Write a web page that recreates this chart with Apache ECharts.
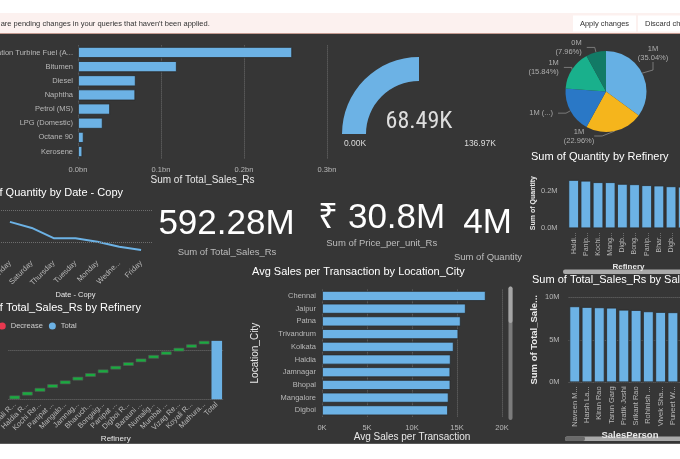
<!DOCTYPE html>
<html>
<head>
<meta charset="utf-8">
<script src="https://cdn.jsdelivr.net/npm/echarts@6/dist/echarts.min.js"></script>
<style>
  html, body { margin: 0; padding: 0; background: #fff; }
  #main { width: 680px; height: 459px; }
</style>
</head>
<body>
<div id="main"></div>
<script>
// ---------- data ----------
const fuelTypes = ['Aviation Turbine Fuel (ATF)', 'Bitumen', 'Diesel', 'Naphtha', 'Petrol (MS)', 'LPG (Domestic)', 'Octane 90', 'Kerosene'];
const fuelSalesBn = [0.258, 0.119, 0.0695, 0.069, 0.0386, 0.0297, 0.0068, 0.0052];

const gaugeMin = 0;
const gaugeMax = 136.97;
const gaugeValue = 68.49;

const pieQtyM = [1.4016, 0.9184, 0.728, 0.6336, 0.3184];

const weekDays = ['Sunday', 'Saturday', 'Thursday', 'Tuesday', 'Monday', 'Wednesday', 'Friday'];
const qtyByDayM = [0.563, 0.544, 0.512, 0.512, 0.501, 0.485, 0.475];
const qtyDayGridM = [0.5, 0.6];

const kpiValues = [592.28, 30.8, 4];
const kpiNames = ['Sum of Total_Sales_Rs', 'Sum of Price_per_unit_Rs', 'Sum of Quantity'];

const qtyRefineries = ['Haldia Refinery', 'Panipat Refinery', 'Kochi Refinery', 'Mangalore Refinery', 'Digboi Refinery',
  'Bongaigaon Refinery', 'Panipat Naphtha Cracker', 'Bharuch Refinery', 'Digboi Refinery (Unit 2)', 'Barauni Refinery'];
const qtyByRefineryM = [0.259, 0.255, 0.247, 0.247, 0.238, 0.236, 0.231, 0.229, 0.225, 0.223];

const wfRefineries = ['Manali Refinery', 'Haldia Refinery', 'Kochi Refinery', 'Panipat Refinery', 'Mangalore Refinery',
  'Jamnagar Refinery', 'Bharuch Refinery', 'Bongaigaon Refinery', 'Panipat Naphtha Cracker', 'Digboi Refinery',
  'Barauni Refinery', 'Numaligarh Refinery', 'Mumbai Refinery', 'Vizag Refinery', 'Koyali Refinery', 'Mathura Refinery'];
const wfSalesM = [38.6, 38.4, 38.1, 37.9, 37.6, 37.4, 37.2, 37.0, 36.9, 36.8, 36.6, 36.5, 36.3, 36.1, 35.6, 35.28];

const cities = ['Chennai', 'Jaipur', 'Patna', 'Trivandrum', 'Kolkata', 'Haldia', 'Jamnagar', 'Bhopal', 'Mangalore', 'Digboi'];
const avgSalesK = [18.19, 15.97, 15.41, 15.15, 14.63, 14.30, 14.26, 14.27, 14.07, 14.00];

const salesPeople = ['Naveen Mehta', 'Harsh Lamba', 'Kiran Rao', 'Tarun Garg', 'Pratik Joshi', 'Srikant Rao',
  'Rohinish Gupta', 'Vivek Sharma', 'Puneet Walia', 'Ankit Verma'];
const salesByPersonM = [8.94, 8.86, 8.82, 8.78, 8.54, 8.50, 8.35, 8.27, 8.24, 8.20];

// ---------- waterfall helpers ----------
const wfCats = wfRefineries.concat(['Total']);
const wfBase = [], wfInc = [];
let running = 0;
wfSalesM.forEach(v => { wfBase.push(running); wfInc.push(v); running += v; });
wfBase.push('-');
wfInc.push('-');
const wfTotal = wfSalesM.map(() => '-').concat([+running.toFixed(2)]);

// ---------- styles ----------
const FONT = '"Liberation Sans", Arial, sans-serif';
const BG = '#363636';
const BLUE = '#6cb2e5';
const TICK = '#b8b8b8';
const AXN = '#e8e8e8';
const dotted = { show: true, lineStyle: { color: '#6e6e6e', type: 'dotted', width: 1 } };
const barBorder = { borderColor: '#2a2a2a', borderWidth: 0.8 };
const tick = (o) => Object.assign({ color: TICK, fontSize: 7.5, fontFamily: FONT }, o);
const ax = (o) => Object.assign({ axisLine: { show: false }, axisTick: { show: false } }, o);
const gridBase = { outerBoundsMode: 'none', containLabel: false };

const chart = echarts.init(document.getElementById('main'));

const kpiTexts = [kpiValues[0].toFixed(2) + 'M', '\u20B9 ' + kpiValues[1] + 'M', kpiValues[2] + 'M'];

function txt(x, y, text, size, fill, extra) {
  return {
    type: 'text', x: x, y: y, silent: true,
    style: Object.assign({
      text: text, fill: fill, fontSize: size, fontFamily: FONT,
      align: 'center', verticalAlign: 'middle', textAlign: 'center', textVerticalAlign: 'middle'
    }, extra || {})
  };
}

const option = {
  backgroundColor: BG,
  animation: false,
  textStyle: { fontFamily: FONT },
  title: [
    { text: 'Sum of Quantity by Date - Copy', right: 557, top: 187.5 },
    { text: 'Sum of Total_Sales_Rs by Refinery', right: 539, top: 302.5 },
    { text: 'Avg Sales per Transaction by Location_City', left: 252, top: 266.5 },
    { text: 'Sum of Quantity by Refinery', left: 531, top: 151.5 },
    { text: 'Sum of Total_Sales_Rs by SalesPerson', left: 532, top: 274.5 }
  ].map(t => Object.assign({ padding: 0, textStyle: { color: '#fff', fontSize: 11, fontWeight: 'normal', fontFamily: FONT } }, t)),
  legend: {
    data: ['Increase', 'Decrease', 'Total'],
    left: -49, top: 321.5, padding: 0,
    itemWidth: 7, itemHeight: 7, itemGap: 6, icon: 'circle',
    selectedMode: false,
    textStyle: { color: '#cfcfcf', fontSize: 7.5, fontFamily: FONT }
  },
  grid: [
    Object.assign({ left: 78, top: 45.4, width: 249, height: 113.2 }, gridBase),
    Object.assign({ left: -1, top: 210, width: 153, height: 48 }, gridBase),
    Object.assign({ left: 567.6, top: 177.9, width: 121.7, height: 50.4 }, gridBase),
    Object.assign({ left: 8.4, top: 340.1, width: 214.7, height: 59.2 }, gridBase),
    Object.assign({ left: 322, top: 289.6, width: 180, height: 127.1 }, gridBase),
    Object.assign({ left: 568.6, top: 297.3, width: 122.7, height: 85 }, gridBase)
  ],
  xAxis: [
    ax({ gridIndex: 0, type: 'value', min: 0, max: 0.3, interval: 0.1,
      axisLabel: tick({ margin: 7.5, formatter: v => v.toFixed(1) + 'bn' }), splitLine: dotted,
      name: 'Sum of Total_Sales_Rs', nameLocation: 'middle', nameGap: 16,
      nameTextStyle: { color: AXN, fontSize: 10, fontFamily: FONT } }),
    ax({ gridIndex: 1, type: 'category', data: weekDays,
      axisLabel: tick({ rotate: 45, interval: 0, margin: 4, width: 33.5, overflow: 'truncate', ellipsis: '...' }),
      name: 'Date - Copy', nameLocation: 'middle', nameGap: 33,
      nameTextStyle: { color: AXN, fontSize: 7.5, fontFamily: FONT } }),
    ax({ gridIndex: 2, type: 'category', data: qtyRefineries,
      axisLabel: tick({ rotate: 90, interval: 0, margin: 4, fontSize: 7, width: 25, overflow: 'truncate', ellipsis: '...' }),
      name: 'Refinery', nameLocation: 'middle', nameGap: 34,
      nameTextStyle: { color: AXN, fontSize: 8, fontWeight: 'bold', fontFamily: FONT } }),
    ax({ gridIndex: 3, type: 'category', data: wfCats,
      axisLabel: tick({ rotate: 45, interval: 0, margin: 4, width: 37.8, overflow: 'truncate', ellipsis: '...' }),
      name: 'Refinery', nameLocation: 'middle', nameGap: 34,
      nameTextStyle: { color: AXN, fontSize: 8, fontFamily: FONT } }),
    ax({ gridIndex: 4, type: 'value', min: 0, max: 20, interval: 5,
      axisLabel: tick({ margin: 7, formatter: v => v + 'K' }), splitLine: dotted,
      name: 'Avg Sales per Transaction', nameLocation: 'middle', nameGap: 15,
      nameTextStyle: { color: AXN, fontSize: 10, fontFamily: FONT } }),
    ax({ gridIndex: 5, type: 'category', data: salesPeople,
      axisLabel: tick({ rotate: 90, interval: 0, margin: 4, width: 42, overflow: 'truncate', ellipsis: '...' }),
      name: 'SalesPerson', nameLocation: 'middle', nameGap: 44,
      nameTextStyle: { color: AXN, fontSize: 9.5, fontWeight: 'bold', fontFamily: FONT } })
  ],
  yAxis: [
    ax({ gridIndex: 0, type: 'category', data: fuelTypes, inverse: true,
      axisLabel: tick({ margin: 5, width: 90, overflow: 'truncate', ellipsis: '...' }) }),
    ax({ gridIndex: 1, type: 'value', min: 0.45, max: 0.6, show: false, splitLine: { show: false } }),
    ax({ gridIndex: 2, type: 'value', min: 0, max: 0.27, interval: 0.2,
      axisLabel: tick({ margin: 10, showMaxLabel: false, formatter: v => v.toFixed(1) + 'M' }),
      splitLine: { show: false },
      name: 'Sum of Quantity', nameLocation: 'middle', nameGap: 31,
      nameTextStyle: { color: AXN, fontSize: 7, fontWeight: 'bold', fontFamily: FONT } }),
    ax({ gridIndex: 3, type: 'value', min: 0, max: 600, interval: 500,
      axisLabel: { show: false },
      splitLine: { show: true, showMaxLine: false, lineStyle: { color: '#6e6e6e', type: 'dotted', width: 1 } } }),
    ax({ gridIndex: 4, type: 'category', data: cities, inverse: true,
      axisLabel: tick({ margin: 6 }),
      name: 'Location_City', nameLocation: 'middle', nameGap: 62,
      nameTextStyle: { color: AXN, fontSize: 10, fontFamily: FONT } }),
    ax({ gridIndex: 5, type: 'value', min: 0, max: 10, interval: 5,
      axisLabel: tick({ margin: 9, formatter: v => v + 'M' }), splitLine: dotted,
      name: 'Sum of Total_Sales_Rs', nameLocation: 'middle', nameGap: 29,
      nameTruncate: { maxWidth: 97, ellipsis: '...' },
      nameTextStyle: { color: AXN, fontSize: 9.5, fontWeight: 'bold', fontFamily: FONT } })
  ],
  series: [
    { type: 'bar', xAxisIndex: 0, yAxisIndex: 0, data: fuelSalesBn, barCategoryGap: '22%',
      itemStyle: Object.assign({ color: BLUE }, barBorder), silent: true },
    { type: 'line', xAxisIndex: 1, yAxisIndex: 1, data: qtyByDayM, symbol: 'none', silent: true,
      lineStyle: { color: BLUE, width: 2 },
      markLine: { silent: true, symbol: 'none', label: { show: false },
        lineStyle: { color: '#6e6e6e', type: 'dotted', width: 1 },
        data: qtyDayGridM.map(v => ({ yAxis: v })) } },
    { type: 'bar', xAxisIndex: 2, yAxisIndex: 2, data: qtyByRefineryM, barCategoryGap: '13%',
      itemStyle: Object.assign({ color: BLUE }, barBorder), silent: true },
    { type: 'bar', xAxisIndex: 3, yAxisIndex: 3, stack: 'wf', data: wfBase, barCategoryGap: '16%',
      itemStyle: { color: 'rgba(0,0,0,0)' }, silent: true },
    { name: 'Increase', type: 'bar', xAxisIndex: 3, yAxisIndex: 3, stack: 'wf', data: wfInc,
      itemStyle: { color: '#1aab40', borderColor: '#555', borderWidth: 0.6 }, silent: true },
    { name: 'Decrease', type: 'bar', xAxisIndex: 3, yAxisIndex: 3, stack: 'wf', data: [],
      itemStyle: { color: '#e8384f' }, silent: true },
    { name: 'Total', type: 'bar', xAxisIndex: 3, yAxisIndex: 3, stack: 'wf', data: wfTotal,
      itemStyle: { color: BLUE }, silent: true },
    { type: 'bar', xAxisIndex: 4, yAxisIndex: 4, data: avgSalesK, barCategoryGap: '21%',
      itemStyle: Object.assign({ color: BLUE }, barBorder), silent: true },
    { type: 'bar', xAxisIndex: 5, yAxisIndex: 5, data: salesByPersonM, barCategoryGap: '13%',
      itemStyle: Object.assign({ color: BLUE }, barBorder), silent: true },
    { type: 'gauge', center: [419, 134], radius: 77, startAngle: 180, endAngle: 0,
      min: gaugeMin, max: gaugeMax, silent: true,
      progress: { show: true, width: 24, roundCap: false, itemStyle: { color: BLUE } },
      axisLine: { lineStyle: { width: 24, color: [[1, 'rgba(0,0,0,0)']] } },
      pointer: { show: false }, axisTick: { show: false }, splitLine: { show: false },
      axisLabel: { show: false }, anchor: { show: false }, title: { show: false },
      detail: { offsetCenter: [0, -12], fontSize: 24, color: '#dedede',
        fontFamily: '"Liberation Sans Narrow", "Roboto Condensed", ' + FONT, fontWeight: 'normal',
        formatter: v => v.toFixed(2) + 'K' },
      data: [{ value: gaugeValue }] },
    { type: 'pie', center: [606, 91.5], radius: 40.5, startAngle: 90, clockwise: true, silent: true,
      color: ['#66b0e4', '#f5b51c', '#2a78c6', '#19b08c', '#127a66'],
      data: pieQtyM.map(v => ({ value: v })),
      label: { color: '#aeaeae', fontSize: 7.5, lineHeight: 9, fontFamily: FONT, overflow: 'none',
        formatter: p => p.dataIndex === 2 ? Math.round(p.value) + 'M (...)'
          : Math.round(p.value) + 'M\n(' + p.percent.toFixed(2) + '%)' },
      labelLine: { length: 5, length2: 8, lineStyle: { color: '#8a8a8a', width: 0.8 } },
      labelLayout: p => {
        if (p.dataIndex === 0) return { x: 653, y: 53, align: 'center', verticalAlign: 'middle' };
        if (p.dataIndex === 1) return { x: 579, y: 136, align: 'center', verticalAlign: 'middle' };
        return {};
      } }
  ],
  graphic: [
    { type: 'rect', shape: { x: 0, y: 0, width: 680, height: 13 }, style: { fill: '#ffffff' }, silent: true },
    { type: 'rect', shape: { x: 0, y: 13, width: 680, height: 20.5 }, style: { fill: '#fcf1ef' }, silent: true },
    { type: 'rect', shape: { x: 0, y: 33, width: 680, height: 1 }, style: { fill: '#c49a90' }, silent: true },
    txt(-21, 24, "There are pending changes in your queries that haven't been applied.", 7.5, '#333',
      { align: 'left', textAlign: 'left' }),
    { type: 'rect', shape: { x: 573, y: 15.5, width: 63, height: 16 }, style: { fill: '#ffffff' }, silent: true },
    txt(604.5, 24, 'Apply changes', 7.5, '#333'),
    { type: 'rect', shape: { x: 638, y: 15.5, width: 60, height: 16 }, style: { fill: '#ffffff' }, silent: true },
    txt(645, 24, 'Discard changes', 7.5, '#333', { align: 'left', textAlign: 'left' }),
    { type: 'rect', shape: { x: 0, y: 443, width: 680, height: 1 }, style: { fill: '#5a5a5a' }, silent: true },
    { type: 'rect', shape: { x: 0, y: 444, width: 680, height: 15 }, style: { fill: '#ffffff' }, silent: true },
    // gauge min / max
    txt(355, 144, gaugeMin.toFixed(2) + 'K', 8.5, '#dcdcdc'),
    txt(480, 144, gaugeMax.toFixed(2) + 'K', 8.5, '#dcdcdc'),
    // KPI cards
    txt(226.5, 224.5, kpiTexts[0], 35, '#ffffff'),
    txt(227, 252.7, kpiNames[0], 9.5, '#bdbdbd'),
    txt(381.7, 218, kpiTexts[1], 35, '#ffffff'),
    txt(381.7, 243.3, kpiNames[1], 9.5, '#bdbdbd'),
    txt(487.5, 223.2, kpiTexts[2], 35, '#ffffff'),
    txt(488, 257.7, kpiNames[2], 9.5, '#bdbdbd'),
    // scrollbars
    { type: 'rect', shape: { x: 563, y: 269.5, width: 130, height: 4.5, r: 2 }, style: { fill: '#a9a9a9' }, silent: true },
    { type: 'rect', shape: { x: 508.5, y: 286.5, width: 4, height: 133.5, r: 2 }, style: { fill: '#7c7c7c' }, silent: true },
    { type: 'rect', shape: { x: 508.5, y: 286.5, width: 4, height: 36.5, r: 2 }, style: { fill: '#a6a6a6' }, silent: true },
    { type: 'rect', shape: { x: 565, y: 436.5, width: 130, height: 4.5, r: 2 }, style: { fill: '#a9a9a9' }, silent: true },
    { type: 'rect', shape: { x: 565, y: 436.5, width: 20, height: 4.5, r: 2 }, style: { fill: '#6a6a6a' }, silent: true }
  ]
};

chart.setOption(option);
window.addEventListener('resize', () => chart.resize());
</script>
</body>
</html>
